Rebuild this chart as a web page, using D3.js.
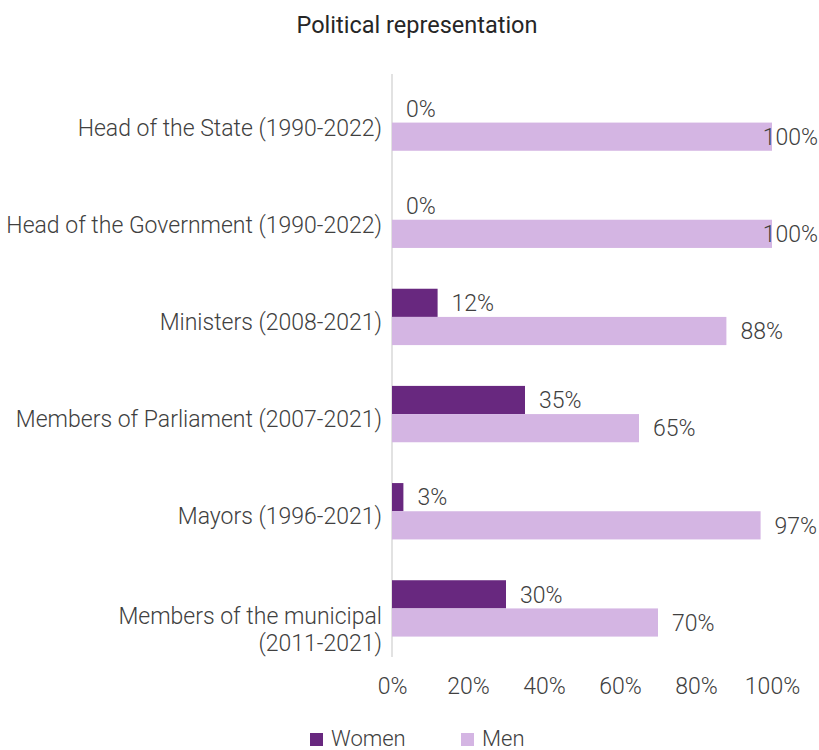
<!DOCTYPE html>
<html>
<head>
<meta charset="utf-8">
<script src="https://cdn.jsdelivr.net/npm/d3@7"></script>
<style>
  html, body { margin: 0; padding: 0; background: #fff; }
  svg { display: block; font-family: Roboto, "Noto Sans", sans-serif; }
</style>
</head>
<body>
<svg id="chart" width="819" height="750"></svg>
<script>
// Political representation by position, share of women vs. men
const categories = [
  ["Head of the State (1990-2022)"],
  ["Head of the Government (1990-2022)"],
  ["Ministers (2008-2021)"],
  ["Members of Parliament (2007-2021)"],
  ["Mayors (1996-2021)"],
  ["Members of the municipal", "(2011-2021)"]
];
const women = [0, 0, 12, 35, 3, 30];
const men = [100, 100, 88, 65, 97, 70];
const seriesNames = ["Women", "Men"];
const xTicks = [0, 20, 40, 60, 80, 100];

const colors = { Women: "#68287f", Men: "#d4b5e3" };
const textColor = "#404040";
const W = 819;
const fs = 23;

const svg = d3.select("#chart");

const x = d3.scaleLinear().domain([0, 100]).range([392, 772]);
const y = d3.scaleBand().domain(d3.range(categories.length)).range([74, 657])
  .paddingInner(0.42).paddingOuter(0.21);
const sub = d3.scaleBand().domain(seriesNames).range([0, y.bandwidth()]);

// Title
svg.append("text")
  .attr("x", 417).attr("y", 33)
  .attr("text-anchor", "middle")
  .attr("font-size", 23.5).attr("font-weight", 400)
  .attr("fill", "#262626")
  .text("Political representation");

// Category axis line
svg.append("line")
  .attr("x1", x(0)).attr("x2", x(0))
  .attr("y1", y.range()[0]).attr("y2", y.range()[1])
  .attr("stroke", "#d9d9d9").attr("stroke-width", 1.5);

// Bars
const rows = categories.map((c, i) => ({ i, Women: women[i], Men: men[i] }));
const groups = svg.selectAll("g.row").data(rows).join("g")
  .attr("class", "row")
  .attr("transform", d => `translate(0,${y(d.i)})`);

groups.selectAll("rect").data(d => seriesNames.map(k => ({ k, v: d[k] }))).join("rect")
  .attr("x", x(0))
  .attr("y", d => sub(d.k))
  .attr("width", d => x(d.v) - x(0))
  .attr("height", sub.bandwidth())
  .attr("fill", d => colors[d.k]);

// Value labels
groups.selectAll("text.val").data(d => seriesNames.map(k => ({ k, v: d[k] }))).join("text")
  .attr("class", "val")
  .attr("y", d => sub(d.k) + sub.bandwidth() / 2)
  .attr("dy", "0.36em")
  .attr("font-size", fs).attr("font-weight", 300)
  .attr("fill", textColor)
  .text(d => d.v + "%")
  .attr("x", function(d) {
    const w = this.getComputedTextLength();
    return Math.min(x(d.v) + 14, W - 1 - w);
  });

// Category labels
svg.selectAll("text.cat").data(categories).join("text")
  .attr("class", "cat")
  .attr("text-anchor", "end")
  .attr("font-size", fs).attr("font-weight", 300)
  .attr("fill", textColor)
  .each(function(lines, i) {
    const cy = y(i) + y.bandwidth() / 2;
    const t = d3.select(this);
    const base = lines.length > 1 ? cy + 16 : cy + 13;
    lines.forEach((ln, j) => {
      t.append("tspan").attr("x", 382).attr("y", base + j * 26.5).text(ln);
    });
  });

// Value axis tick labels
const xAxis = d3.axisBottom(x).tickValues(xTicks).tickFormat(d => d + "%").tickSize(0).tickPadding(0);
const ax = svg.append("g").attr("transform", "translate(0,678)").call(xAxis);
ax.select(".domain").remove();
ax.selectAll("text")
  .attr("font-size", fs).attr("font-weight", 300)
  .attr("font-family", "Roboto, 'Noto Sans', sans-serif")
  .attr("fill", textColor);

// Legend
const legendItems = [{ k: "Women", x: 310 }, { k: "Men", x: 461 }];
const lg = svg.selectAll("g.legend").data(legendItems).join("g")
  .attr("class", "legend")
  .attr("transform", d => `translate(${d.x},733)`);
lg.append("rect").attr("width", 13).attr("height", 13).attr("fill", d => colors[d.k]);
lg.append("text")
  .attr("x", 21).attr("y", 13)
  .attr("font-size", 22).attr("font-weight", 300)
  .attr("fill", textColor)
  .text(d => d.k);
</script>
</body>
</html>
